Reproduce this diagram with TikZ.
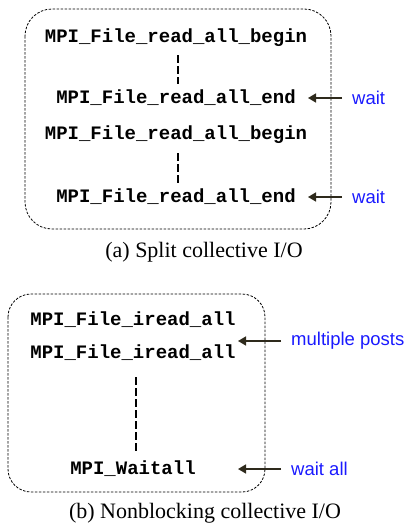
\documentclass[tikz,border=0pt]{standalone}
\usepackage{fontspec}
\setmainfont{Liberation Serif}
\setsansfont{Liberation Sans}
\setmonofont{Liberation Mono}
\usetikzlibrary{arrows.meta}
\definecolor{arrowc}{HTML}{2E2A1C}
\definecolor{labblue}{HTML}{1A1AFF}
\tikzset{
  x=1pt, y=-1pt,
  framebox/.style={draw=black, line width=0.8pt, dash pattern=on 2.5pt off 1.5pt},
  codetext/.style={font=\fontsize{19}{19}\selectfont\ttfamily\bfseries, inner sep=0pt, anchor=center},
  labtext/.style={font=\fontsize{18.5}{18.5}\selectfont\sffamily, text=labblue, inner sep=0pt, anchor=west},
  captext/.style={font=\fontsize{22}{22}\selectfont\rmfamily, inner sep=0pt},
  pointer/.style={draw=arrowc, line width=1.6pt, -{Triangle[length=8pt,width=9pt]}},
  vdashline/.style={line width=2.5pt, dash pattern=on 8pt off 3pt}
}
\begin{document}
\begin{tikzpicture}
\useasboundingbox (0,0) rectangle (404,525);
% (a) split collective
\draw[framebox, rounded corners=27pt] (25,9) rectangle (331,229);
\node[codetext] (a1) at (176,38) {MPI\_File\_read\_all\_begin};
\node[codetext] (a2) at (176,98) {MPI\_File\_read\_all\_end};
\node[codetext] (a3) at (176,135) {MPI\_File\_read\_all\_begin};
\node[codetext] (a4) at (176,197) {MPI\_File\_read\_all\_end};
\coordinate (d1s) at (178,55); \coordinate (d1e) at (178,84);
\coordinate (d2s) at (178,153); \coordinate (d2e) at (178,183);
\draw[vdashline] (d1s) -- (d1e);
\draw[vdashline] (d2s) -- (d2e);
\node[labtext] (w1) at (352,98) {wait};
\node[labtext] (w2) at (352,197) {wait};
\coordinate (t1) at (308,98); \coordinate (t2) at (308,197);
\coordinate (s1) at (342,98); \coordinate (s2) at (342,197);
\draw[pointer] (s1) -- (t1);
\draw[pointer] (s2) -- (t2);
\node[captext] (ca) at (204,252) {(a) Split collective I/O};
% (b) nonblocking collective
\draw[framebox, rounded corners=23pt] (8,294) rectangle (265,492);
\node[codetext] (b1) at (133,320) {MPI\_File\_iread\_all};
\node[codetext] (b2) at (133,353) {MPI\_File\_iread\_all};
\node[codetext] (b3) at (133,469) {MPI\_Waitall};
\coordinate (d3s) at (136,377); \coordinate (d3e) at (136,453);
\draw[vdashline] (d3s) -- (d3e);
\node[labtext] (m1) at (291,341) {multiple posts};
\node[labtext] (m2) at (291,469) {wait all};
\coordinate (t3) at (238,341); \coordinate (t4) at (238,469);
\coordinate (s3) at (281,341); \coordinate (s4) at (281,469);
\draw[pointer] (s3) -- (t3);
\draw[pointer] (s4) -- (t4);
\node[captext] (cb) at (205,513) {(b) Nonblocking collective I/O};
\end{tikzpicture}
\end{document}
